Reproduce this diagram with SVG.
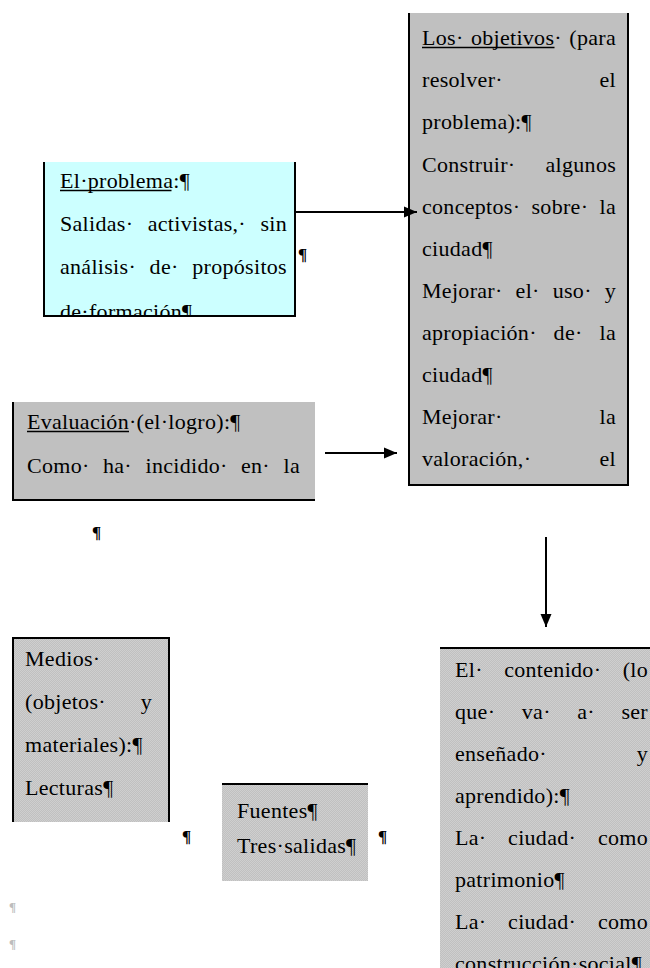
<svg xmlns="http://www.w3.org/2000/svg" width="650" height="968" viewBox="0 0 650 968">
<style>
.t{font-family:"Liberation Serif","Times New Roman",serif;font-size:22px;fill:#000;letter-spacing:0.3px}
.pm{font-family:"Liberation Serif","Times New Roman",serif;font-size:17px;font-weight:bold;fill:#000}
.pg{font-family:"Liberation Serif","Times New Roman",serif;font-size:13px;font-weight:bold;fill:#bdbdbd}
.bd{fill:none;stroke:#000;stroke-width:2}
.ul{stroke:#000;stroke-width:1.5}
.gray{fill:#c0c0c0}
.dith{fill:url(#dith)}
.cn{stroke:#000;stroke-width:2;fill:none}
</style>
<defs>
<pattern id="dith" width="2" height="2" patternUnits="userSpaceOnUse">
<rect width="2" height="2" fill="#c0c0c0"/>
<rect width="1" height="1" fill="#cfcfcf"/>
<rect x="1" y="1" width="1" height="1" fill="#cfcfcf"/>
</pattern>
<marker id="ah" markerUnits="userSpaceOnUse" markerWidth="14" markerHeight="12" refX="13" refY="6" orient="auto">
<path d="M0,0.5 L13,6 L0,11.5 Z" fill="#000"/>
</marker>
<clipPath id="clipProb"><rect x="43" y="162" width="253" height="154"/></clipPath>
</defs>
<rect width="650" height="968" fill="#fff"/>

<g id="objetivos">
<rect x="408" y="13" width="221" height="473" class="gray"/>
<path d="M409,13 V485 H628 V13" class="bd"/>
<text class="t" y="45"><tspan x="422">Los·</tspan><tspan x="470.9">objetivos·</tspan><tspan x="569.3">(para</tspan></text>
<line x1="422" y1="47.5" x2="554.5" y2="47.5" class="ul"/>
<text class="t" y="87"><tspan x="422">resolver·</tspan><tspan x="599.5">el</tspan></text>
<text class="t" x="422" y="129">problema):¶</text>
<text class="t" y="171.5"><tspan x="422">Construir·</tspan><tspan x="545.5">algunos</tspan></text>
<text class="t" y="213.5"><tspan x="422">conceptos·</tspan><tspan x="531.5">sobre·</tspan><tspan x="599.5">la</tspan></text>
<text class="t" x="422" y="255.5">ciudad¶</text>
<text class="t" y="297.5"><tspan x="422">Mejorar·</tspan><tspan x="515.6">el·</tspan><tspan x="552.7">uso·</tspan><tspan x="604.7">y</tspan></text>
<text class="t" y="339.5"><tspan x="422">apropiación·</tspan><tspan x="553.6">de·</tspan><tspan x="599.5">la</tspan></text>
<text class="t" x="422" y="381.5">ciudad¶</text>
<text class="t" y="424"><tspan x="422">Mejorar·</tspan><tspan x="599.5">la</tspan></text>
<text class="t" y="466"><tspan x="422">valoración,·</tspan><tspan x="599.5">el</tspan></text>
</g>

<g id="problema">
<rect x="43" y="162" width="253" height="155" fill="#ccffff"/>
<path d="M44,162 V316 H295 V162" class="bd"/>
<g clip-path="url(#clipProb)">
<text class="t" x="60" y="188">El·problema:¶</text>
<line x1="60" y1="190.5" x2="171.5" y2="190.5" class="ul"/>
<text class="t" y="231"><tspan x="60">Salidas·</tspan><tspan x="147.7">activistas,·</tspan><tspan x="260.4">sin</tspan></text>
<text class="t" y="274"><tspan x="60">análisis·</tspan><tspan x="149.6">de·</tspan><tspan x="192.3">propósitos</tspan></text>
<text class="t" x="60" y="319">de·formación¶</text>
</g>
</g>

<g id="evaluacion">
<rect x="12" y="402" width="303" height="99" class="gray"/>
<path d="M13,402 V500 H315" class="bd"/>
<text class="t" x="27" y="429">Evaluación·(el·logro):¶</text>
<line x1="27" y1="431.5" x2="129" y2="431.5" class="ul"/>
<text class="t" y="473"><tspan x="27">Como·</tspan><tspan x="103">ha·</tspan><tspan x="145.5">incidido·</tspan><tspan x="241">en·</tspan><tspan x="283.5">la</tspan></text>
</g>

<g id="medios">
<rect x="12" y="637" width="158" height="185" class="dith"/>
<path d="M13,822 V638 H169 V822" class="bd"/>
<text class="t" x="25" y="666">Medios·</text>
<text class="t" y="709"><tspan x="25">(objetos·</tspan><tspan x="140.7">y</tspan></text>
<text class="t" x="25" y="752">materiales):¶</text>
<text class="t" x="25" y="795">Lecturas¶</text>
</g>

<g id="fuentes">
<rect x="222" y="783" width="146" height="98" class="dith"/>
<path d="M222,784 H368" class="bd"/>
<text class="t" x="237" y="818">Fuentes¶</text>
<text class="t" x="237" y="853">Tres·salidas¶</text>
</g>

<g id="contenido">
<rect x="440" y="647" width="210" height="321" class="dith"/>
<path d="M440,648 H650" class="bd"/>
<text class="t" y="677"><tspan x="455">El·</tspan><tspan x="504.2">contenido·</tspan><tspan x="622.7">(lo</tspan></text>
<text class="t" y="719"><tspan x="455">que·</tspan><tspan x="521.8">va·</tspan><tspan x="577.2">a·</tspan><tspan x="621.4">ser</tspan></text>
<text class="t" y="761"><tspan x="455">enseñado·</tspan><tspan x="636.7">y</tspan></text>
<text class="t" x="455" y="803">aprendido):¶</text>
<text class="t" y="845"><tspan x="455">La·</tspan><tspan x="508.1">ciudad·</tspan><tspan x="597.9">como</tspan></text>
<text class="t" x="455" y="887">patrimonio¶</text>
<text class="t" y="929"><tspan x="455">La·</tspan><tspan x="508.1">ciudad·</tspan><tspan x="597.9">como</tspan></text>
<text class="t" x="455" y="971">construcción·social¶</text>
</g>

<g id="connectors">
<line x1="296" y1="212" x2="417" y2="212" class="cn" marker-end="url(#ah)"/>
<line x1="325" y1="453" x2="397" y2="453" class="cn" marker-end="url(#ah)"/>
<line x1="546" y1="537" x2="546" y2="627" class="cn" marker-end="url(#ah)"/>
</g>

<g id="marks">
<text class="pm" x="298" y="260">¶</text>
<text class="pm" x="92" y="538">¶</text>
<text class="pm" x="182" y="842">¶</text>
<text class="pm" x="378" y="842">¶</text>
<text class="pg" x="9" y="911">¶</text>
<text class="pg" x="9" y="948">¶</text>
</g>
</svg>
